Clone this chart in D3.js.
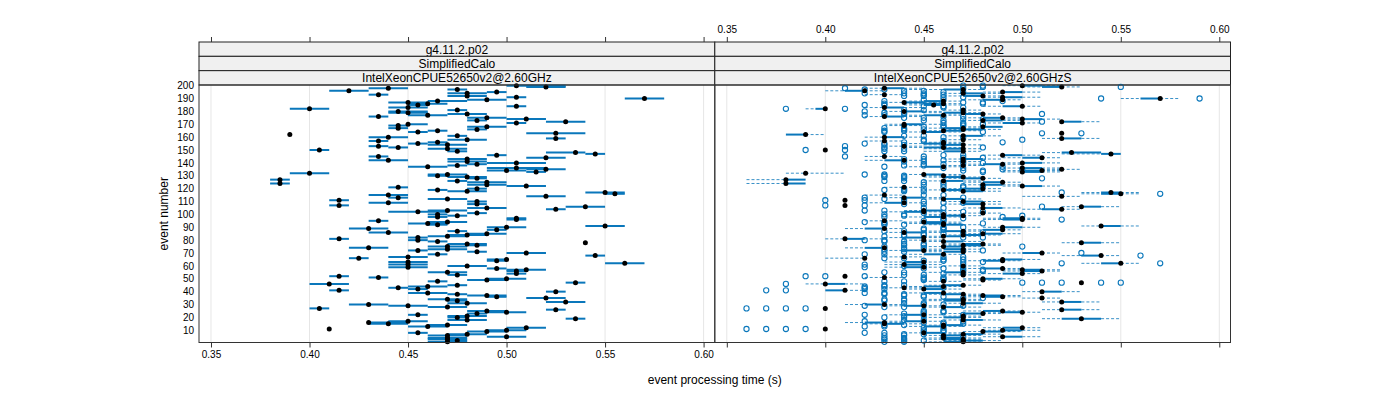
<!DOCTYPE html>
<html><head><meta charset="utf-8">
<script src="https://cdn.jsdelivr.net/npm/d3@7"></script>
<style>body{margin:0;background:#fff} svg text{font-family:"Liberation Sans",Arial,Helvetica,sans-serif}</style>
</head><body><svg id="c" width="1400" height="400"></svg>
<script>
// categories: event numbers, listed from 200 down to 1 (same order as every array below)
const eventNumbers = d3.range(200, 0, -1);
const xTickValues = [0.35, 0.40, 0.45, 0.50, 0.55, 0.60];
const yTickValues = [10,20,30,40,50,60,70,80,90,100,110,120,130,140,150,160,170,180,190,200];
const stripTop = "g4.11.2.p02";
const stripMid = "SimplifiedCalo";
const panelNames = ["IntelXeonCPUE52650v2@2.60GHz", "IntelXeonCPUE52650v2@2.60GHzS"];
const xTitle = "event processing time (s)";
const yTitle = "event number";

// left panel (…GHz): median, box low, box high
const leftMed = [.505,.52,.44,.475,.42,.495,.48,.435,.48,.505, .57,.49,.465,.45,.46,.455,.505,.45,.40,.475,
 .445,.45,.48,.46,.435,.49,.51,.485,.53,.505, .45,.445,.49,.445,.485,.465,.455,.525,.39,.475,
 .44,.525,.48,.435,.465,.455,.47,.435,.445,.47, .405,.475,.535,.545,.495,.435,.52,.48,.44,.48,
 .505,.485,.475,.46,.505,.52,.50,.515,.40,.47, .465,.48,.485,.385,.475,.49,.385,.49,.51,.445,
 .485,.465,.48,.55,.555,.44,.52,.445,.47,.415, .485,.44,.485,.415,.54,.49,.525,.47,.455,.485,
 .465,.475,.465,.505,.505,.435,.47,.46,.465,.55, .50,.43,.495,.475,.44,.49,.48,.47,.455,.415,
 .455,.465,.54,.48,.485,.47,.43,.47,.455,.485, .51,.465,.545,.45,.425,.50,.495,.45,.56,.45,
 .48,.45,.495,.51,.505,.47,.505,.475,.415,.435, .50,.49,.465,.535,.41,.475,.46,.445,.455,.415,
 .525,.46,.475,.49,.495,.52,.47,.475,.53,.48, .43,.45,.47,.405,.525,.49,.50,.485,.455,.48,
 .475,.535,.48,.45,.43,.44,.47,.46,.51,.41, .50,.49,.455,.48,.47,.50,.47,.47,.475,.47];
const leftLo = [.50,.51,.43,.47,.41,.49,.47,.43,.47,.50, .56,.48,.46,.44,.45,.45,.50,.44,.39,.47,
 .44,.44,.47,.45,.43,.48,.50,.48,.52,.50, .45,.44,.48,.44,.48,.46,.45,.51,.39,.47,
 .43,.52,.47,.43,.46,.45,.46,.43,.44,.46, .40,.47,.52,.54,.49,.43,.51,.47,.43,.47,
 .49,.48,.47,.45,.49,.51,.49,.51,.39,.46, .46,.47,.48,.38,.47,.48,.38,.48,.50,.44,
 .48,.46,.47,.54,.55,.43,.51,.44,.46,.41, .48,.43,.48,.41,.53,.48,.52,.46,.44,.48,
 .46,.47,.46,.50,.50,.43,.46,.45,.46,.54, .49,.42,.49,.47,.43,.48,.47,.46,.45,.41,
 .45,.46,.54,.47,.48,.46,.42,.46,.45,.48, .50,.46,.54,.44,.42,.49,.49,.44,.55,.44,
 .47,.44,.49,.50,.50,.46,.50,.47,.41,.43, .49,.48,.46,.53,.40,.47,.45,.44,.45,.41,
 .52,.45,.47,.48,.49,.51,.46,.47,.52,.47, .42,.44,.46,.40,.52,.48,.49,.48,.45,.47,
 .47,.53,.47,.44,.43,.43,.46,.45,.50,.41, .49,.48,.45,.47,.46,.49,.46,.46,.47,.46];
const leftHi = [.53,.53,.45,.48,.43,.50,.49,.44,.49,.51, .58,.50,.48,.46,.47,.46,.51,.46,.41,.48,
 .46,.46,.49,.47,.44,.50,.52,.49,.54,.51, .46,.45,.50,.45,.49,.47,.46,.54,.39,.48,
 .45,.53,.49,.44,.47,.46,.48,.44,.45,.48, .41,.48,.54,.55,.50,.44,.53,.49,.45,.49,
 .52,.49,.48,.47,.52,.53,.51,.52,.41,.48, .47,.49,.49,.39,.48,.50,.39,.50,.52,.45,
 .49,.47,.49,.56,.56,.45,.53,.45,.48,.42, .49,.45,.49,.42,.55,.50,.53,.48,.47,.49,
 .47,.48,.47,.51,.51,.44,.48,.47,.47,.56, .51,.44,.50,.48,.45,.50,.49,.48,.46,.42,
 .46,.47,.54,.49,.49,.48,.44,.48,.46,.49, .52,.47,.55,.46,.43,.50,.50,.46,.57,.46,
 .49,.46,.50,.52,.51,.48,.51,.48,.42,.44, .51,.50,.47,.54,.42,.48,.47,.45,.46,.42,
 .53,.47,.48,.50,.50,.53,.48,.48,.54,.49, .44,.46,.48,.41,.53,.50,.51,.49,.46,.49,
 .48,.54,.49,.46,.45,.45,.48,.47,.52,.41, .51,.50,.46,.49,.48,.51,.48,.48,.48,.48];

// right panel (…GHzS): median, box (q1,q3), whiskers (lo,hi), outliers
const rightMed = [.50,.52,.43,.47,.42,.49,.47,.43,.48,.49, .57,.49,.46,.44,.46,.455,.50,.43,.40,.47,
 .44,.47,.48,.46,.43,.49,.50,.48,.52,.50, .44,.44,.48,.47,.47,.46,.45,.52,.39,.47,
 .43,.52,.47,.43,.46,.46,.47,.44,.46,.47, .40,.47,.525,.545,.49,.43,.51,.47,.44,.47,
 .50,.49,.47,.46,.50,.52,.51,.50,.39,.45, .46,.47,.48,.38,.46,.49,.38,.48,.50,.44,
 .48,.46,.47,.545,.55,.43,.52,.44,.46,.41, .47,.44,.48,.41,.53,.48,.52,.45,.45,.48,
 .46,.47,.46,.50,.50,.43,.45,.46,.46,.54, .49,.43,.49,.47,.44,.48,.47,.46,.45,.41,
 .45,.46,.53,.48,.47,.46,.43,.47,.45,.47, .51,.46,.54,.44,.42,.49,.49,.45,.55,.44,
 .47,.45,.49,.50,.51,.47,.50,.47,.41,.43, .48,.48,.46,.53,.40,.47,.46,.44,.45,.41,
 .51,.46,.47,.48,.49,.51,.47,.47,.52,.47, .43,.45,.46,.40,.52,.49,.50,.48,.45,.47,
 .47,.53,.47,.45,.43,.43,.46,.46,.50,.40, .49,.48,.45,.47,.46,.49,.46,.47,.47,.47];
const rightQ1 = [.50,.51,.43,.46,.41,.49,.47,.43,.47,.49, .56,.48,.45,.44,.45,.45,.49,.43,.395,.47,
 .44,.46,.47,.45,.43,.48,.50,.48,.52,.49, .44,.44,.48,.46,.47,.46,.45,.52,.38,.47,
 .43,.52,.47,.43,.46,.45,.46,.44,.45,.46, .40,.46,.52,.54,.49,.43,.50,.47,.43,.47,
 .50,.48,.47,.45,.50,.52,.50,.50,.39,.45, .46,.46,.47,.38,.46,.48,.38,.48,.50,.44,
 .47,.46,.47,.54,.54,.43,.52,.44,.46,.41, .47,.43,.47,.41,.53,.48,.51,.45,.44,.48,
 .46,.46,.45,.49,.49,.43,.45,.45,.46,.54, .49,.42,.48,.46,.44,.48,.47,.46,.44,.41,
 .45,.46,.53,.47,.47,.46,.42,.46,.44,.46, .50,.45,.53,.44,.42,.49,.48,.44,.54,.44,
 .47,.44,.48,.50,.50,.46,.49,.47,.41,.43, .48,.48,.46,.53,.40,.46,.45,.44,.45,.40,
 .51,.45,.46,.48,.48,.51,.46,.46,.52,.47, .42,.44,.46,.40,.52,.48,.49,.47,.44,.47,
 .46,.52,.47,.44,.42,.43,.46,.45,.49,.40, .49,.48,.45,.47,.46,.49,.46,.46,.47,.46];
const rightQ3 = [.51,.52,.44,.47,.42,.50,.48,.43,.48,.50, .57,.49,.46,.45,.46,.46,.50,.44,.40,.47,
 .45,.47,.48,.46,.44,.49,.51,.49,.53,.50, .45,.44,.49,.47,.48,.47,.46,.52,.39,.48,
 .44,.53,.47,.43,.46,.46,.47,.44,.46,.47, .40,.47,.54,.55,.50,.43,.51,.48,.44,.47,
 .51,.49,.47,.46,.51,.52,.51,.51,.39,.46, .46,.47,.48,.39,.47,.49,.39,.49,.51,.44,
 .48,.47,.48,.55,.55,.43,.52,.45,.47,.41, .48,.44,.48,.41,.54,.49,.52,.46,.45,.48,
 .46,.47,.46,.50,.50,.43,.46,.46,.47,.55, .50,.43,.49,.47,.45,.49,.48,.47,.45,.42,
 .45,.47,.54,.48,.48,.47,.43,.47,.45,.47, .51,.46,.54,.44,.42,.50,.49,.45,.55,.45,
 .47,.45,.49,.51,.51,.47,.50,.47,.41,.43, .49,.48,.46,.53,.41,.47,.46,.44,.46,.41,
 .52,.46,.47,.49,.49,.51,.47,.47,.53,.48, .43,.45,.47,.40,.53,.49,.50,.48,.45,.47,
 .47,.54,.48,.45,.43,.44,.47,.46,.50,.40, .50,.49,.46,.48,.47,.50,.47,.47,.48,.47];
const rightLo = [.49,.50,.42,.44,.40,.48,.46,.42,.46,.48, .55,.47,.44,.43,.44,.44,.48,.42,.39,.46,
 .43,.45,.46,.44,.42,.47,.49,.47,.52,.48, .43,.43,.47,.45,.46,.45,.44,.52,.38,.46,
 .42,.51,.46,.42,.45,.44,.45,.43,.44,.45, .40,.45,.51,.52,.48,.42,.49,.46,.42,.46,
 .49,.47,.46,.44,.49,.51,.49,.49,.38,.44, .45,.45,.46,.36,.45,.47,.36,.47,.49,.43,
 .46,.45,.46,.53,.53,.42,.50,.43,.45,.41, .46,.42,.46,.41,.52,.47,.50,.44,.43,.47,
 .45,.45,.44,.48,.48,.42,.44,.44,.45,.53, .48,.41,.47,.45,.43,.47,.46,.45,.43,.40,
 .44,.45,.52,.46,.46,.45,.41,.45,.43,.45, .49,.44,.52,.43,.40,.48,.47,.43,.53,.43,
 .46,.43,.47,.49,.49,.45,.48,.46,.41,.42, .47,.47,.45,.53,.39,.45,.44,.43,.44,.40,
 .50,.44,.45,.47,.47,.50,.45,.45,.51,.46, .41,.43,.45,.40,.51,.47,.48,.46,.43,.46,
 .45,.51,.46,.43,.41,.42,.45,.44,.48,.40, .48,.47,.44,.46,.45,.48,.45,.45,.46,.45];
const rightHi = [.52,.53,.45,.48,.43,.51,.49,.44,.49,.51, .58,.50,.47,.46,.47,.47,.51,.45,.40,.48,
 .46,.48,.49,.47,.45,.50,.52,.50,.54,.51, .46,.45,.49,.48,.49,.48,.47,.52,.40,.49,
 .45,.54,.48,.44,.47,.47,.48,.45,.47,.48, .40,.48,.54,.55,.51,.44,.52,.49,.45,.48,
 .52,.50,.48,.47,.52,.53,.52,.52,.41,.47, .47,.48,.49,.39,.48,.50,.39,.50,.52,.45,
 .49,.48,.49,.56,.56,.44,.53,.46,.48,.41, .49,.45,.49,.41,.55,.50,.53,.47,.46,.49,
 .47,.48,.47,.51,.51,.44,.47,.47,.48,.56, .51,.44,.50,.48,.46,.50,.49,.48,.46,.43,
 .46,.48,.55,.49,.49,.48,.43,.48,.46,.48, .52,.47,.55,.45,.42,.51,.50,.46,.56,.46,
 .48,.46,.50,.52,.52,.48,.51,.48,.41,.44, .50,.49,.47,.53,.42,.48,.47,.45,.47,.42,
 .53,.47,.48,.50,.50,.52,.48,.48,.54,.49, .44,.46,.48,.40,.54,.50,.51,.49,.46,.48,
 .48,.55,.49,.46,.44,.45,.48,.47,.51,.40, .51,.50,.47,.49,.48,.51,.48,.48,.49,.48];
const rightOut = [[.47,.48],[.48,.55],[.41,.47],[.42,.43],[.44,.45],[.46,.47],[.42,.44,.45],[.45,.46],[.44,.45],[.46,.47],
 [.54,.59],[.45,.46],[.43,.49],[.47,.48],[.43,.48],[.42,.43],[.45,.46],[.46,.47],[.38,.41],[.44,.45],
 [.42,.47],[.43,.44],[.44,.51],[.42,.43],[.46,.47],[.44,.45],[.47,.48],[.45,.46],[.51],[.46,.47],
 [.47,.48],[.46,.47],[.45,.46],[.43,.44],[.44,.45],[.43,.44],[.43,.48],[.51,.53],[],[.44,.45],
 [.46,.47],[],[.45,.50],[.45,.46],[.44,.49],[.42,.43],[.43,.44],[.41,.46],[.43,.48],[.43,.44],
 [.39,.41],[.43,.44],[],[],[.46,.47],[.41,.45],[.47,.48],[.44,.45],[.46,.47],[.44,.45],
 [.47,.48],[.45,.46],[.44,.45],[.43,.49],[.46,.47],[.49,.50],[.47,.48],[.48],[],[.42,.43],
 [.43,.44],[.43,.44],[.44,.51],[],[.43,.44],[.45,.46],[],[.45,.46],[.47,.48],[.46,.47],
 [.44,.45],[.43,.44],[.44,.45],[.52],[.57],[.45,.46],[],[.42,.47],[.43,.44],[.40,.42],
 [.44,.45],[.46,.47],[.44,.45],[.40,.42],[.51],[.45,.46],[],[.42,.43],[.47,.48],[.45,.46],
 [.43,.44],[.44,.50],[.43,.49],[.46,.47],[.46,.52],[.45,.46],[.42,.43],[.43,.48],[.43,.44],[],
 [.46,.47],[.45,.46],[.45,.46],[.43,.44],[.47,.48],[.45,.46],[.44,.45],[.43,.44],[.47,.48],[],
 [.42,.43],[.43,.44],[],[.44,.45],[.44,.45],[.43,.50],[.44,.45],[.43,.44],[.47,.48],[.43,.44],
 [.53],[.42,.43],[.56],[.46,.47],[.43,.44],[.46,.47],[.45,.46],[.47,.48],[.52,.57],[.42,.47],
 [.44,.45],[.42,.47],[.45,.46],[.47,.48],[.47,.48],[.43,.44],[.46,.47],[.44,.45],[.39,.40,.42],[.45,.46],
 [.45,.46],[.45,.46],[.43,.44],[.50,.51,.52,.54,.55],[.38],[.43,.44],[.42,.43],[.42,.46],[.42,.43],[.37,.38],
 [],[.42,.43],[.43,.44],[.44,.45],[.45,.46],[.47,.48],[.43,.44],[.43,.44],[],[.44,.45],
 [.45,.46],[.42,.47],[.43,.44],[.36,.37,.38,.39],[],[.45,.46],[.45,.46],[.44,.45],[.42,.47],[.44,.45],
 [.43,.44],[],[.44,.45],[.42,.47],[.45,.46],[.46,.47],[.43,.44],[.42,.43],[.45,.46],[.36,.37,.38,.39],
 [.45,.46],[.45,.46],[.42,.43],[.44,.45],[.43,.44],[.46,.47],[.43,.44],[.43,.44],[.44,.45],[.43,.44]];

const svg = d3.select("#c");
svg.append("rect").attr("width",1400).attr("height",400).attr("fill","#fff");
const blue = "#0a77bb";
const panels = [{x0:199, x1:714.8}, {x0:714.8, x1:1230.5}];
const plotTop = 85, plotBot = 342.5, stripTop0 = 42, stripH = (plotTop - stripTop0) / 3;
const xDomain = [0.34391, 0.60569];
const y = d3.scaleLinear().domain([0.5, 200.5]).range([plotBot, plotTop]);
const xs = panels.map(p => d3.scaleLinear().domain(xDomain).range([p.x0, p.x1]));

panels.forEach((p, pi) => {
  const x = xs[pi];
  const g = svg.append("g");
  g.selectAll("line.grid").data(xTickValues).join("line")
    .attr("x1", d => x(d)).attr("x2", d => x(d)).attr("y1", plotTop).attr("y2", plotBot)
    .attr("stroke", "#e6e6e6").attr("stroke-width", 1);
  [stripTop, stripMid, panelNames[pi]].forEach((t, k) => {
    const sy = stripTop0 + k * stripH;
    g.append("rect").attr("x", p.x0).attr("y", sy).attr("width", p.x1 - p.x0).attr("height", stripH)
      .attr("fill", "#f0f0f0").attr("stroke", "#222").attr("stroke-width", 1);
    g.append("text").attr("x", (p.x0 + p.x1) / 2).attr("y", sy + stripH / 2 + 4.6)
      .attr("text-anchor", "middle").attr("font-size", 12).attr("fill", "#000").text(t);
  });
  const bottom = d3.axisBottom(x).tickValues(xTickValues).tickSize(5).tickPadding(3).tickFormat(d3.format(".2f"));
  const top = d3.axisTop(x).tickValues(xTickValues).tickSize(5).tickPadding(4).tickFormat(d3.format(".2f"));
  const gb = g.append("g").attr("transform", `translate(0,${plotBot})`).call(bottom);
  const gt = g.append("g").attr("transform", `translate(0,${stripTop0})`).call(top);
  [gb, gt].forEach(a => { a.select(".domain").remove(); a.selectAll("line").attr("stroke", "#333"); a.selectAll("text").attr("font-size", 10).attr("fill", "#000").style("font-family", '"Liberation Sans",Arial,sans-serif'); });
  if (pi === 0) gt.selectAll("text").remove(); else gb.selectAll("text").remove();
});

const ya = svg.append("g").attr("transform", `translate(${panels[0].x0},0)`)
  .call(d3.axisLeft(y).tickValues(yTickValues).tickSize(0).tickPadding(5));
ya.select(".domain").remove();
ya.selectAll("text").attr("font-size", 10).attr("fill", "#000").style("font-family", '"Liberation Sans",Arial,sans-serif');

// left panel
const xl = xs[0];
const leftRows = eventNumbers.map((e, i) => ({e, med: leftMed[i], lo: leftLo[i], hi: leftHi[i]}));
svg.append("g").selectAll("line").data(leftRows).join("line")
  .attr("x1", d => xl(d.lo)).attr("x2", d => xl(d.hi)).attr("y1", d => y(d.e)).attr("y2", d => y(d.e))
  .attr("stroke", blue).attr("stroke-width", 2);
svg.append("g").selectAll("circle").data(leftRows).join("circle")
  .attr("cx", d => xl(d.med)).attr("cy", d => y(d.e)).attr("r", 2.5).attr("fill", "#000");

// right panel
const xr = xs[1];
const rightRows = eventNumbers.map((e, i) => ({e, med: rightMed[i], q1: rightQ1[i], q3: rightQ3[i], lo: rightLo[i], hi: rightHi[i], out: rightOut[i]}));
const gr = svg.append("g");
gr.selectAll("line.wl").data(rightRows.filter(d => d.lo < d.q1)).join("line")
  .attr("x1", d => xr(d.lo)).attr("x2", d => xr(d.q1)).attr("y1", d => y(d.e)).attr("y2", d => y(d.e))
  .attr("stroke", blue).attr("stroke-width", 1).attr("stroke-dasharray", "3,2").attr("opacity", 0.8);
gr.selectAll("line.wh").data(rightRows.filter(d => d.hi > d.q3)).join("line")
  .attr("x1", d => xr(d.q3)).attr("x2", d => xr(d.hi)).attr("y1", d => y(d.e)).attr("y2", d => y(d.e))
  .attr("stroke", blue).attr("stroke-width", 1).attr("stroke-dasharray", "3,2").attr("opacity", 0.8);
gr.selectAll("line.box").data(rightRows.filter(d => d.q3 > d.q1)).join("line")
  .attr("x1", d => xr(d.q1)).attr("x2", d => xr(d.q3)).attr("y1", d => y(d.e)).attr("y2", d => y(d.e))
  .attr("stroke", blue).attr("stroke-width", 2);
const outs = rightRows.flatMap(d => d.out.map(v => ({e: d.e, v})));
gr.selectAll("circle.out").data(outs).join("circle")
  .attr("cx", d => xr(d.v)).attr("cy", d => y(d.e)).attr("r", 2.6)
  .attr("fill", "none").attr("stroke", blue).attr("stroke-width", 1.1);
gr.selectAll("circle.med").data(rightRows).join("circle")
  .attr("cx", d => xr(d.med)).attr("cy", d => y(d.e)).attr("r", 2.5).attr("fill", "#000");

panels.forEach(p => svg.append("rect").attr("x", p.x0).attr("y", plotTop).attr("width", p.x1 - p.x0)
  .attr("height", plotBot - plotTop).attr("fill", "none").attr("stroke", "#333").attr("stroke-width", 1));

svg.append("text").attr("x", (panels[0].x0 + panels[1].x1) / 2).attr("y", 384).attr("text-anchor", "middle")
  .attr("font-size", 12).attr("fill", "#000").text(xTitle);
svg.append("text").attr("transform", `translate(168,${(plotTop + plotBot) / 2}) rotate(-90)`)
  .attr("text-anchor", "middle").attr("font-size", 12).attr("fill", "#000").text(yTitle);
</script></body></html>
